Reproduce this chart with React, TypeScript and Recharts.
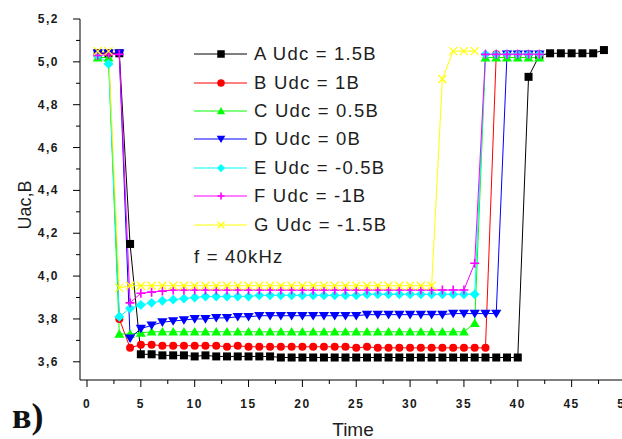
import React from 'react';
import { LineChart, Line, XAxis, YAxis, Legend } from 'recharts';

// Sample times
const times = [
  1, 2, 3, 4, 5, 6, 7, 8, 9, 10, 11, 12, 13, 14, 15, 16, 17, 18, 19, 20, 21, 22, 23, 24,
  25, 26, 27, 28, 29, 30, 31, 32, 33, 34, 35, 36, 37, 38, 39, 40, 41, 42, 43, 44, 45, 46, 47, 48,
];

// Uac readings for each Udc setting
const seriesA = [
  5.04, 5.04, 5.04, 4.15, 3.635, 3.635, 3.63, 3.63, 3.63, 3.625,
  3.63, 3.625, 3.625, 3.625, 3.625, 3.625, 3.625, 3.62, 3.62, 3.62,
  3.62, 3.62, 3.62, 3.62, 3.62, 3.62, 3.62, 3.62, 3.62, 3.62,
  3.62, 3.62, 3.62, 3.62, 3.62, 3.62, 3.62, 3.62, 3.62, 3.62,
  4.93, 5.03, 5.04, 5.04, 5.04, 5.04, 5.04, 5.055,
];
const seriesB = [
  5.04, 5.04, 3.8, 3.665, 3.68, 3.68, 3.675, 3.675, 3.675, 3.675,
  3.675, 3.675, 3.67, 3.675, 3.67, 3.67, 3.67, 3.67, 3.67, 3.67,
  3.67, 3.67, 3.67, 3.67, 3.665, 3.67, 3.665, 3.665, 3.665, 3.665,
  3.665, 3.665, 3.665, 3.665, 3.665, 3.665, 3.665, 5.035, 5.035, 5.035,
  5.035, 5.035,
];
const seriesC = [
  5.02, 5.02, 3.73, 3.73, 3.735, 3.74, 3.74, 3.74, 3.74, 3.74,
  3.74, 3.74, 3.74, 3.74, 3.74, 3.74, 3.74, 3.74, 3.74, 3.74,
  3.74, 3.74, 3.74, 3.74, 3.74, 3.74, 3.74, 3.74, 3.74, 3.74,
  3.74, 3.74, 3.74, 3.74, 3.74, 3.78, 5.02, 5.02, 5.02, 5.02,
  5.02, 5.02,
];
const seriesD = [
  5.04, 5.04, 5.04, 3.71, 3.755, 3.77, 3.785, 3.79, 3.795, 3.8,
  3.8, 3.805, 3.805, 3.81, 3.81, 3.815, 3.815, 3.815, 3.815, 3.815,
  3.815, 3.815, 3.815, 3.815, 3.815, 3.82, 3.82, 3.82, 3.82, 3.82,
  3.82, 3.82, 3.82, 3.825, 3.825, 3.825, 3.825, 3.825, 5.035, 5.035,
  5.035, 5.035,
];
const seriesE = [
  5.03, 4.99, 3.81, 3.85, 3.865, 3.875, 3.885, 3.89, 3.895, 3.9,
  3.905, 3.905, 3.905, 3.905, 3.905, 3.91, 3.91, 3.91, 3.91, 3.91,
  3.91, 3.91, 3.91, 3.91, 3.91, 3.915, 3.915, 3.915, 3.915, 3.915,
  3.915, 3.915, 3.915, 3.915, 3.915, 3.915, 5.035, 5.035, 5.035, 5.035,
  5.035, 5.035,
];
const seriesF = [
  5.03, 5.035, 5.035, 3.875, 3.92, 3.925, 3.93, 3.935, 3.935, 3.935,
  3.935, 3.935, 3.935, 3.935, 3.935, 3.935, 3.935, 3.935, 3.935, 3.935,
  3.935, 3.935, 3.935, 3.935, 3.935, 3.935, 3.935, 3.935, 3.935, 3.935,
  3.935, 3.935, 3.935, 3.935, 3.935, 4.06, 5.035, 5.035, 5.035, 5.035,
  5.035, 5.035,
];
const seriesG = [
  5.05, 5.05, 3.945, 3.955, 3.955, 3.955, 3.955, 3.955, 3.955, 3.955,
  3.955, 3.955, 3.955, 3.955, 3.955, 3.955, 3.955, 3.955, 3.955, 3.955,
  3.955, 3.955, 3.955, 3.955, 3.955, 3.955, 3.955, 3.955, 3.955, 3.955,
  3.955, 3.955, 4.92, 5.05, 5.05, 5.05,
];

const seriesNames = [
  'A Udc = 1.5B',
  'B Udc = 1B',
  'C Udc = 0.5B',
  'D Udc = 0B',
  'E Udc = -0.5B',
  'F Udc = -1B',
  'G Udc = -1.5B',
];
const noteText = 'f = 40kHz';

const xTicks = [0, 2.5, 5, 7.5, 10, 12.5, 15, 17.5, 20, 22.5, 25, 27.5, 30, 32.5, 35, 37.5, 40, 42.5, 45, 47.5, 50];
const yTicks = [3.6, 3.7, 3.8, 3.9, 4.0, 4.1, 4.2, 4.3, 4.4, 4.5, 4.6, 4.7, 4.8, 4.9, 5.0, 5.1, 5.2];

type Shape = 'square' | 'circle' | 'up' | 'down' | 'diamond' | 'plus' | 'cross';

const SERIES: { key: string; values: number[]; color: string; shape: Shape }[] = [
  { key: 'a', values: seriesA, color: '#000000', shape: 'square' },
  { key: 'b', values: seriesB, color: '#ff0000', shape: 'circle' },
  { key: 'c', values: seriesC, color: '#00ff00', shape: 'up' },
  { key: 'd', values: seriesD, color: '#0000ff', shape: 'down' },
  { key: 'e', values: seriesE, color: '#00ffff', shape: 'diamond' },
  { key: 'f', values: seriesF, color: '#ff00ff', shape: 'plus' },
  { key: 'g', values: seriesG, color: '#ffff00', shape: 'cross' },
];

const data = times.map((t, i) => {
  const row: Record<string, number | undefined> = { t };
  SERIES.forEach((s) => {
    row[s.key] = i < s.values.length ? s.values[i] : undefined;
  });
  return row;
});

const SANS = '"Liberation Sans", Arial, sans-serif';
const AXIS_X = 80; // left edge of the plot area
const AXIS_Y = 380; // bottom edge of the plot area

function Marker({ shape, cx, cy, color, s }: { shape: Shape; cx: number; cy: number; color: string; s: number }) {
  const h = s / 2;
  switch (shape) {
    case 'square':
      return <rect x={cx - h} y={cy - h} width={s} height={s} fill={color} />;
    case 'circle':
      return <circle cx={cx} cy={cy} r={h} fill={color} />;
    case 'up':
      return (
        <polygon
          points={`${cx},${cy - h * 1.05} ${cx + h * 1.1},${cy + h * 0.85} ${cx - h * 1.1},${cy + h * 0.85}`}
          fill={color}
        />
      );
    case 'down':
      return (
        <polygon
          points={`${cx},${cy + h * 1.05} ${cx + h * 1.15},${cy - h * 0.85} ${cx - h * 1.15},${cy - h * 0.85}`}
          fill={color}
        />
      );
    case 'diamond':
      return (
        <polygon
          points={`${cx},${cy - h * 1.1} ${cx + h * 1.1},${cy} ${cx},${cy + h * 1.1} ${cx - h * 1.1},${cy}`}
          fill={color}
        />
      );
    case 'plus':
      return (
        <path
          d={`M${cx - h},${cy}H${cx + h}M${cx},${cy - h}V${cy + h}`}
          stroke={color}
          strokeWidth={1.6}
          fill="none"
        />
      );
    case 'cross':
    default:
      return (
        <path
          d={`M${cx - h},${cy - h}L${cx + h},${cy + h}M${cx + h},${cy - h}L${cx - h},${cy + h}`}
          stroke={color}
          strokeWidth={1.2}
          fill="none"
        />
      );
  }
}

const DOT_SIZE: Record<Shape, number> = {
  square: 8,
  circle: 8,
  up: 9,
  down: 9,
  diamond: 9,
  plus: 9,
  cross: 8,
};

function makeDot(shape: Shape, color: string) {
  return (props: any) => {
    const { cx, cy, index } = props;
    if (cx == null || cy == null || Number.isNaN(cy)) return <g key={`${shape}-${index}`} />;
    return (
      <g key={`${shape}-${index}`}>
        <Marker shape={shape} cx={cx} cy={cy} color={color} s={DOT_SIZE[shape]} />
      </g>
    );
  };
}

function XTick(props: any) {
  const { x, y, payload } = props;
  const v = payload.value as number;
  const major = Math.abs(v % 5) < 1e-6;
  return (
    <g>
      <line x1={x} x2={x} y1={y} y2={y + (major ? 7 : 4)} stroke="#000" strokeWidth={1} />
      {major && (
        <text
          x={x}
          y={y + 28}
          textAnchor="middle"
          fontFamily={SANS}
          fontSize={12}
          fontWeight="bold"
          letterSpacing={1.5}
          fill="#1a1a1a"
        >
          {String(v)}
        </text>
      )}
    </g>
  );
}

function YTick(props: any) {
  const { x, y, payload } = props;
  const v = payload.value as number;
  const major = Math.round(v * 10) % 2 === 0;
  return (
    <g>
      <line x1={x} x2={x - (major ? 7 : 4)} y1={y} y2={y} stroke="#000" strokeWidth={1} />
      {major && (
        <text
          x={x - 21}
          y={y + 4}
          textAnchor="end"
          fontFamily={SANS}
          fontSize={12}
          fontWeight="bold"
          letterSpacing={1.5}
          fill="#1a1a1a"
        >
          {v.toFixed(1).replace('.', ',')}
        </text>
      )}
    </g>
  );
}

function LegendMarkerSvg({ shape, color }: { shape: Shape; color: string }) {
  return (
    <svg width={54} height={14} style={{ display: 'block', flex: '0 0 auto' }}>
      <line x1={0} x2={53} y1={7} y2={7} stroke={color} strokeWidth={1} />
      <Marker shape={shape} cx={27} cy={7} color={color} s={shape === 'plus' || shape === 'cross' ? 7 : 7.5} />
    </svg>
  );
}

function renderLegend() {
  const rowStyle: React.CSSProperties = {
    display: 'flex',
    alignItems: 'center',
    height: 28.4,
  };
  const textStyle: React.CSSProperties = {
    fontFamily: SANS,
    fontSize: 18.5,
    letterSpacing: 1.2,
    color: '#1e1e1e',
    marginLeft: 6,
    whiteSpace: 'nowrap',
    lineHeight: '20px',
  };
  return (
    <div>
      {SERIES.map((s, i) => (
        <div key={s.key} style={rowStyle}>
          <LegendMarkerSvg shape={s.shape} color={s.color} />
          <span style={textStyle}>{seriesNames[i]}</span>
        </div>
      ))}
      <div style={{ ...rowStyle, marginTop: 4 }}>
        <span style={{ ...textStyle, marginLeft: 0 }}>{noteText}</span>
      </div>
    </div>
  );
}

export default function App() {
  return (
    <div
      style={{
        position: 'absolute',
        left: 0,
        top: 0,
        width: 622,
        height: 439,
        overflow: 'hidden',
        background: '#fff',
      }}
    >
      <LineChart
        width={640}
        height={439}
        data={data}
        margin={{ top: 19, right: 10, bottom: 0, left: 0 }}
      >
        <XAxis
          dataKey="t"
          type="number"
          domain={[-0.65, 50.42]}
          ticks={xTicks}
          interval={0}
          allowDataOverflow
          height={439 - AXIS_Y}
          tickSize={0}
          tickMargin={0}
          tickLine={false}
          axisLine={{ stroke: '#000', strokeWidth: 1 }}
          tick={<XTick />}
          label={(p: any) => (
            <text
              x={353}
              y={436}
              textAnchor="middle"
              fontFamily={SANS}
              fontSize={19}
              fill="#1e1e1e"
            >
              Time
            </text>
          )}
        />
        <YAxis
          type="number"
          domain={[3.515, 5.2]}
          ticks={yTicks}
          interval={0}
          allowDataOverflow
          width={AXIS_X}
          tickSize={0}
          tickMargin={0}
          tickLine={false}
          axisLine={{ stroke: '#000', strokeWidth: 1 }}
          tick={<YTick />}
          label={(p: any) => (
            <text
              x={0}
              y={0}
              transform="translate(31,205) rotate(-90)"
              textAnchor="middle"
              fontFamily={SANS}
              fontSize={18}
              fill="#1e1e1e"
            >
              Uac,B
            </text>
          )}
        />
        <Legend
          layout="vertical"
          align="center"
          verticalAlign="middle"
          wrapperStyle={{ left: 194, top: 40, width: 240 }}
          content={renderLegend}
        />
        {SERIES.map((s) => (
          <Line
            key={s.key}
            dataKey={s.key}
            type="linear"
            stroke={s.color}
            strokeWidth={1}
            dot={makeDot(s.shape, s.color)}
            activeDot={false}
            isAnimationActive={false}
            connectNulls={false}
            legendType="none"
          />
        ))}
      </LineChart>
      <svg
        width={70}
        height={439}
        style={{ position: 'absolute', left: 0, top: 0, pointerEvents: 'none' }}
      >
        <text
          x={12}
          y={428}
          fontFamily='"Liberation Serif", "Times New Roman", serif'
          fontWeight="bold"
          fontSize={36}
          fill="#111"
        >
          в)
        </text>
      </svg>
    </div>
  );
}
